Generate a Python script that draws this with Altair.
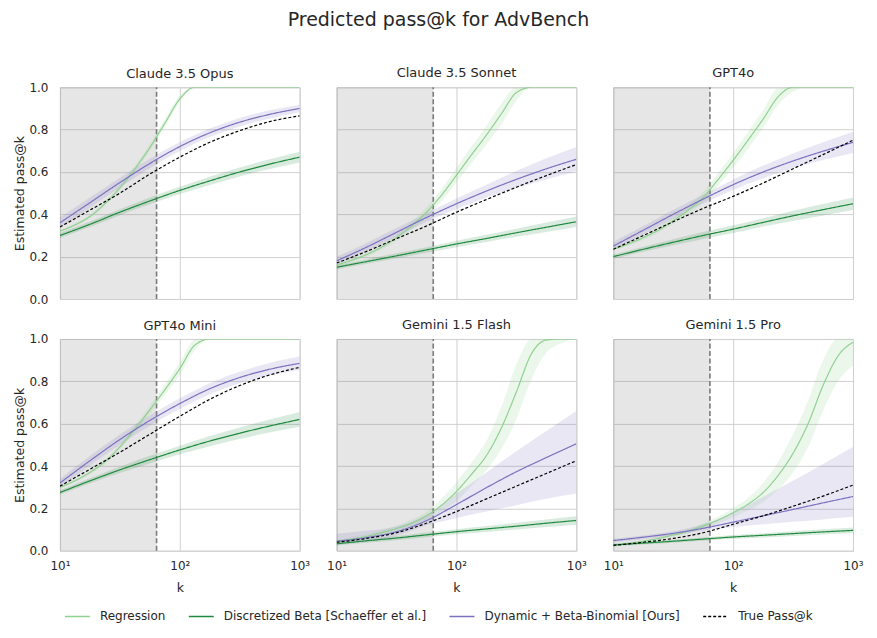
import altair as alt
import pandas as pd

# ---------------- data ----------------
PANELS = ["Claude 3.5 Opus", "Claude 3.5 Sonnet", "GPT4o",
          "GPT4o Mini", "Gemini 1.5 Flash", "Gemini 1.5 Pro"]
SERIES = ["Regression", "Discretized Beta [Schaeffer et al.]",
          "Dynamic + Beta-Binomial [Ours]", "True Pass@k"]
COLORS = ["#8fd18f", "#1f8a3d", "#7a72c0", "#000000"]

# k grids (quarter-decade for smooth curves, eighth-decade for the regression)
K_SMOOTH = [10, 17.8, 31.6, 56.2, 100, 178, 316, 562, 1000]
K_REG = [10, 13.3, 17.8, 23.7, 31.6, 42.2, 56.2, 75, 100, 133, 178, 237, 316, 422, 562, 750, 1000]
CUTOFF_K = 64
K_DOMAIN = [10, 1000]
Y_DOMAIN = [0, 1]
X_TICKS = [10, 100, 1000]
X_TICK_LABELS = ["10¹", "10²", "10³"]
Y_TICKS = [0, 0.2, 0.4, 0.6, 0.8, 1.0]

OPUS = dict(
    reg=[0.32, 0.35, 0.39, 0.45, 0.525, 0.615, 0.715, 0.83, 0.945, 1.0, 1.0, 1.0, 1.0, 1.0, 1.0, 1.0, 1.0],
    reg_err=[0.005, 0.006, 0.008, 0.01, 0.012, 0.014, 0.016, 0.018, 0.015, 0, 0, 0, 0, 0, 0, 0, 0],
    beta=[0.30, 0.353, 0.41, 0.463, 0.513, 0.558, 0.60, 0.637, 0.67],
    beta_err=[0.012, 0.013, 0.014, 0.016, 0.017, 0.019, 0.021, 0.023, 0.025],
    dyn=[0.36, 0.455, 0.55, 0.64, 0.72, 0.785, 0.835, 0.872, 0.90],
    dyn_err=[0.025, 0.024, 0.023, 0.022, 0.021, 0.02, 0.02, 0.019, 0.018],
    true=[0.34, 0.42, 0.50, 0.59, 0.67, 0.74, 0.795, 0.838, 0.865],
)
SONNET = dict(
    reg=[0.16, 0.183, 0.21, 0.245, 0.29, 0.345, 0.41, 0.49, 0.585, 0.68, 0.775, 0.875, 0.975, 1.0, 1.0, 1.0, 1.0],
    reg_err=[0.005, 0.007, 0.01, 0.012, 0.015, 0.02, 0.025, 0.03, 0.035, 0.04, 0.045, 0.05, 0.04, 0, 0, 0, 0],
    beta=[0.15, 0.177, 0.204, 0.232, 0.26, 0.286, 0.313, 0.339, 0.365],
    beta_err=[0.01, 0.011, 0.012, 0.013, 0.015, 0.017, 0.019, 0.022, 0.025],
    dyn=[0.18, 0.245, 0.315, 0.385, 0.45, 0.51, 0.565, 0.615, 0.66],
    dyn_err=[0.02, 0.02, 0.02, 0.02, 0.025, 0.03, 0.04, 0.05, 0.058],
    true=[0.17, 0.225, 0.285, 0.345, 0.41, 0.47, 0.528, 0.583, 0.635],
)
GPT4O = dict(
    reg=[0.235, 0.26, 0.29, 0.325, 0.37, 0.42, 0.48, 0.565, 0.655, 0.75, 0.85, 0.955, 1.0, 1.0, 1.0, 1.0, 1.0],
    reg_err=[0.005, 0.007, 0.01, 0.012, 0.015, 0.02, 0.025, 0.03, 0.035, 0.04, 0.042, 0.04, 0.02, 0, 0, 0, 0],
    beta=[0.20, 0.235, 0.268, 0.30, 0.33, 0.362, 0.393, 0.422, 0.45],
    beta_err=[0.01, 0.012, 0.014, 0.016, 0.018, 0.02, 0.024, 0.027, 0.03],
    dyn=[0.25, 0.325, 0.40, 0.472, 0.54, 0.60, 0.652, 0.698, 0.74],
    dyn_err=[0.02, 0.02, 0.02, 0.02, 0.025, 0.03, 0.035, 0.042, 0.05],
    true=[0.235, 0.30, 0.365, 0.428, 0.485, 0.548, 0.615, 0.682, 0.75],
)
MINI = dict(
    reg=[0.30, 0.33, 0.37, 0.42, 0.49, 0.575, 0.665, 0.76, 0.86, 0.97, 1.0, 1.0, 1.0, 1.0, 1.0, 1.0, 1.0],
    reg_err=[0.005, 0.006, 0.008, 0.01, 0.012, 0.015, 0.02, 0.025, 0.03, 0.025, 0, 0, 0, 0, 0, 0, 0],
    beta=[0.275, 0.33, 0.382, 0.43, 0.476, 0.518, 0.555, 0.589, 0.62],
    beta_err=[0.01, 0.012, 0.015, 0.018, 0.02, 0.024, 0.027, 0.031, 0.035],
    dyn=[0.32, 0.425, 0.525, 0.615, 0.695, 0.765, 0.818, 0.857, 0.885],
    dyn_err=[0.02, 0.022, 0.024, 0.025, 0.025, 0.026, 0.027, 0.03, 0.032],
    true=[0.305, 0.385, 0.465, 0.55, 0.635, 0.715, 0.78, 0.83, 0.866],
)
FLASH = dict(
    reg=[0.045, 0.055, 0.068, 0.085, 0.105, 0.13, 0.165, 0.215, 0.28, 0.36, 0.45, 0.58, 0.75, 0.93, 0.995, 1.0, 1.0],
    reg_err=[0.008, 0.009, 0.01, 0.012, 0.014, 0.017, 0.02, 0.03, 0.045, 0.055, 0.07, 0.1, 0.13, 0.12, 0.06, 0.02, 0],
    beta=[0.033, 0.047, 0.06, 0.075, 0.09, 0.103, 0.116, 0.13, 0.143],
    beta_err=[0.008, 0.009, 0.01, 0.011, 0.012, 0.014, 0.016, 0.018, 0.02],
    dyn=[0.045, 0.062, 0.09, 0.142, 0.218, 0.298, 0.373, 0.44, 0.505],
    dyn_lo=[0.03, 0.045, 0.07, 0.12, 0.155, 0.185, 0.215, 0.245, 0.27],
    dyn_hi=[0.08, 0.095, 0.115, 0.17, 0.27, 0.37, 0.47, 0.565, 0.66],
    true=[0.04, 0.058, 0.085, 0.13, 0.185, 0.245, 0.305, 0.365, 0.425],
)
PRO = dict(
    reg=[0.027, 0.035, 0.045, 0.058, 0.074, 0.093, 0.117, 0.145, 0.18, 0.22, 0.275, 0.355, 0.46, 0.60, 0.78, 0.92, 0.985],
    reg_err=[0.005, 0.005, 0.006, 0.007, 0.008, 0.01, 0.013, 0.017, 0.022, 0.03, 0.045, 0.065, 0.09, 0.11, 0.12, 0.12, 0.11],
    beta=[0.027, 0.036, 0.045, 0.055, 0.065, 0.073, 0.081, 0.089, 0.096],
    beta_err=[0.006, 0.007, 0.007, 0.008, 0.009, 0.01, 0.011, 0.012, 0.014],
    dyn=[0.048, 0.064, 0.082, 0.106, 0.135, 0.165, 0.195, 0.226, 0.256],
    dyn_lo=[0.04, 0.055, 0.072, 0.095, 0.112, 0.125, 0.137, 0.148, 0.16],
    dyn_hi=[0.056, 0.072, 0.092, 0.125, 0.18, 0.255, 0.33, 0.41, 0.49],
    true=[0.025, 0.04, 0.058, 0.085, 0.125, 0.165, 0.21, 0.258, 0.31],
)
PANEL_DATA = [OPUS, SONNET, GPT4O, MINI, FLASH, PRO]

# ---------------- build tables ----------------
rows = []
for name, d in zip(PANELS, PANEL_DATA):
    for key, series, ks in [("reg", SERIES[0], K_REG), ("beta", SERIES[1], K_SMOOTH),
                            ("dyn", SERIES[2], K_SMOOTH), ("true", SERIES[3], K_SMOOTH)]:
        mids = d[key]
        if key + "_lo" in d:
            los, his = d[key + "_lo"], d[key + "_hi"]
        elif key + "_err" in d:
            los = [max(0.0, m - e) for m, e in zip(mids, d[key + "_err"])]
            his = [min(1.0, m + e) for m, e in zip(mids, d[key + "_err"])]
        else:
            los, his = mids, mids
        for i, k in enumerate(ks):
            rows.append(dict(panel=name, series=series, k=k, mid=mids[i], lo=los[i], hi=his[i],
                             band=(key != "true")))
df = pd.DataFrame(rows)
shade_df = pd.DataFrame([dict(k=K_DOMAIN[0], k2=CUTOFF_K, y=Y_DOMAIN[0], y2=Y_DOMAIN[1])])
cut_df = pd.DataFrame([dict(k=CUTOFF_K, y=Y_DOMAIN[0], y2=Y_DOMAIN[1])])

FONT = "DejaVu Sans"
TXT = "#262626"
GRID = "#d0d0d0"
W, H = 240, 212

label_expr = " : ".join(
    f"datum.value == {v} ? '{l}'" for v, l in zip(X_TICKS[:-1], X_TICK_LABELS[:-1])
) + f" : '{X_TICK_LABELS[-1]}'"

color_scale = alt.Scale(domain=SERIES, range=COLORS)
band_scale = alt.Scale(domain=SERIES[:3], range=COLORS[:3])
dash_scale = alt.Scale(domain=SERIES, range=[[1, 0], [1, 0], [1, 0], [3, 2]])
legend = alt.Legend(title=None, orient="bottom", direction="horizontal", offset=4,
                    columns=4, symbolType="stroke", symbolSize=625, symbolStrokeWidth=1.5,
                    labelFontSize=12, labelFont=FONT, labelColor=TXT, labelOffset=9,
                    columnPadding=20, labelLimit=400, padding=4)


def xenc(field, bottom):
    ax = dict(values=X_TICKS, labelExpr=label_expr, ticks=False, domain=False, grid=True,
              gridColor=GRID, labelFontSize=12, labelPadding=10, titleFontSize=12.5,
              titlePadding=10, labels=bottom, labelFlush=False)
    if bottom:
        return alt.X(f"{field}:Q", title="k", axis=alt.Axis(**ax),
                     scale=alt.Scale(type="log", domain=K_DOMAIN, nice=False))
    return alt.X(f"{field}:Q", title=None, axis=alt.Axis(**ax),
                 scale=alt.Scale(type="log", domain=K_DOMAIN, nice=False))


def yenc(field, left):
    ax = dict(values=Y_TICKS, format=".1f", ticks=False, domain=False, grid=True,
              gridColor=GRID, labelFontSize=12, labelPadding=12, titleFontSize=12.5,
              titlePadding=2, labels=left)
    if left:
        return alt.Y(f"{field}:Q", title="Estimated pass@k", axis=alt.Axis(**ax),
                     scale=alt.Scale(domain=Y_DOMAIN, nice=False))
    return alt.Y(f"{field}:Q", title=None, axis=alt.Axis(**ax),
                 scale=alt.Scale(domain=Y_DOMAIN, nice=False))


def panel(idx):
    name = PANELS[idx]
    bottom = idx >= 3
    left = idx % 3 == 0
    d = df[df.panel == name]
    shade = alt.Chart(shade_df).mark_rect(color="#808080", opacity=0.2).encode(
        x=xenc("k", bottom), x2="k2", y=yenc("y", left), y2="y2")
    cut = alt.Chart(cut_df).mark_rule(color="#7a7a7a", strokeDash=[5, 2.5], strokeWidth=1.6).encode(
        x=xenc("k", bottom), y=yenc("y", left), y2="y2")
    bands = alt.Chart(d[d.band]).mark_area(opacity=0.17, interpolate="monotone", clip=True).encode(
        x=xenc("k", bottom), y=yenc("lo", left), y2="hi",
        fill=alt.Fill("series:N", scale=band_scale, legend=None),
        detail="series:N")
    lines = alt.Chart(d).mark_line(strokeWidth=1.2, interpolate="monotone", clip=True).encode(
        x=xenc("k", bottom), y=yenc("mid", left),
        color=alt.Color("series:N", scale=color_scale, legend=legend, sort=SERIES),
        strokeDash=alt.StrokeDash("series:N", scale=dash_scale, legend=legend, sort=SERIES))
    # left-column panels: the "1.0" tick label pokes above the plot, so the title needs less offset
    return alt.layer(shade, bands, cut, lines).properties(
        width=W, height=H,
        title=alt.TitleParams(name, fontSize=13, font=FONT, color=TXT, fontWeight="normal",
                              offset=(0 if left else 6)))


chart = alt.concat(*[panel(i) for i in range(6)], columns=3, bounds="flush",
                   spacing=alt.RowColnumber(row=40, column=37)).properties(
    title=alt.TitleParams("Predicted pass@k for AdvBench", fontSize=19, font=FONT, color=TXT,
                          fontWeight="normal", anchor="middle", offset=37),
    padding={"left": 5, "top": 2, "right": 5, "bottom": 5},
).configure_view(stroke="#d0d0d0", strokeWidth=1).configure_axis(
    labelFont=FONT, titleFont=FONT, labelColor=TXT, titleColor=TXT, titleFontWeight="normal"
)

chart.save("out.html", embed_options={"renderer": "svg", "actions": False})
